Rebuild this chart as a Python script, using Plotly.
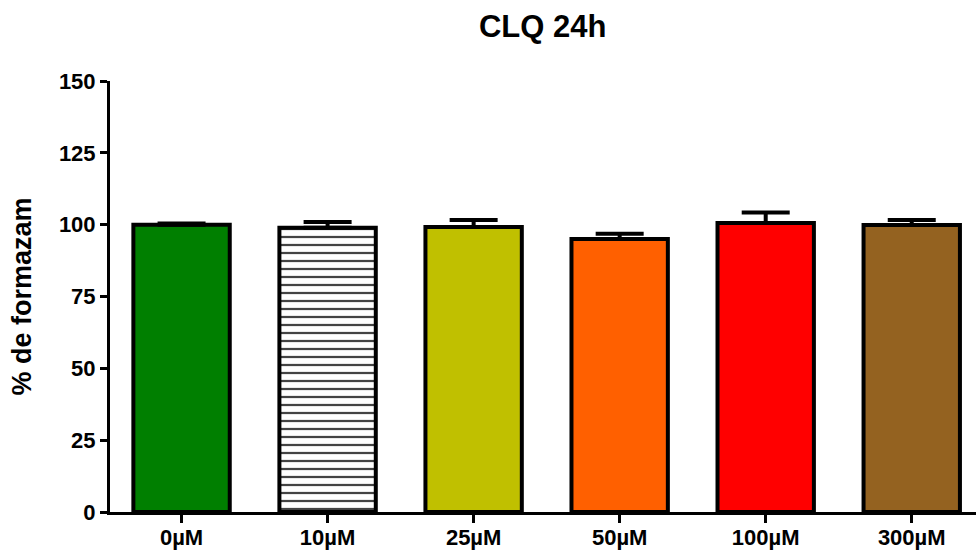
import plotly.graph_objects as go

categories = ["0µM", "10µM", "25µM", "50µM", "100µM", "300µM"]
values = [100.0, 98.9, 99.2, 95.0, 100.6, 99.9]
errors = [0.4, 2.0, 2.4, 1.8, 3.6, 1.7]
colors = ["#007F00", "#FFFFFF", "#C0C000", "#FF6000", "#FF0000", "#946220"]
patterns = ["", "-", "", "", "", ""]

fam = "Liberation Sans, Arial, sans-serif"

fig = go.Figure()
fig.add_trace(go.Bar(
    x=categories, y=values,
    width=0.66,
    marker=dict(
        color=colors,
        line=dict(color="black", width=4),
        pattern=dict(shape=patterns, fgcolor="black", bgcolor="white",
                     size=8, solidity=0.28, fillmode="overlay", fgopacity=1),
    ),
    error_y=dict(type="data", symmetric=False, array=errors,
                 arrayminus=[0] * len(errors),
                 color="black", thickness=4, width=24),
))

fig.update_layout(
    width=976, height=551,
    margin=dict(l=110, r=0, t=81, b=39),
    plot_bgcolor="white", paper_bgcolor="white",
    showlegend=False,
    title=dict(text="CLQ 24h", x=0.556, xanchor="center", y=0.953,
               yanchor="middle", font=dict(family=fam, size=31, color="black", weight="bold")),
    font=dict(family=fam, size=22, color="black", weight="bold"),
)
fig.update_xaxes(
    range=[-0.49, 5.44],
    automargin=False,
    showline=True, linecolor="black", linewidth=3,
    ticks="outside", ticklen=8, tickwidth=3, tickcolor="black",
    ticklabelstandoff=-4,
    tickfont=dict(family=fam, size=22, color="black", weight="bold"),
    showgrid=False, zeroline=False,
)
fig.update_yaxes(
    range=[0, 150],
    automargin=False,
    tickvals=[0, 25, 50, 75, 100, 125, 150],
    showline=True, linecolor="black", linewidth=3,
    ticks="outside", ticklen=7, tickwidth=3, tickcolor="black",
    tickfont=dict(family=fam, size=22, color="black", weight="bold"),
    title=dict(text="% de formazam", standoff=20,
               font=dict(family=fam, size=27, color="black", weight="bold")),
    showgrid=False, zeroline=False,
)

fig.write_html("out.html", config={"displayModeBar": False},
               post_script="document.body.style.margin='0';document.body.style.overflow='hidden';")
